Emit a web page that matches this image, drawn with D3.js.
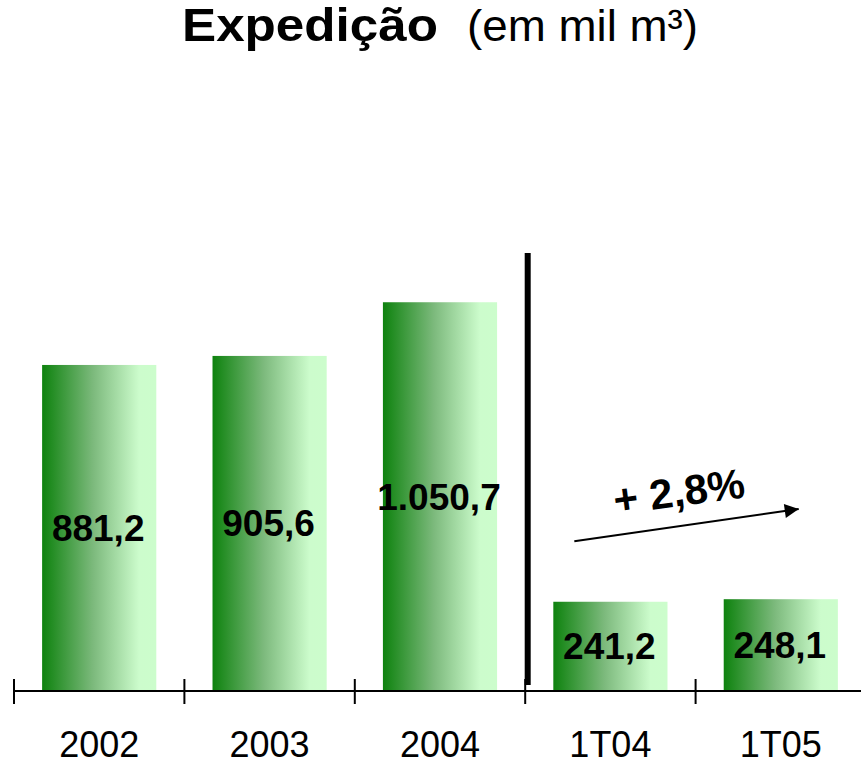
<!DOCTYPE html>
<html>
<head>
<meta charset="utf-8">
<script src="https://cdn.jsdelivr.net/npm/d3@7"></script>
<style>
  html, body { margin: 0; padding: 0; background: #fff; }
  svg { display: block; font-family: Arial, "Liberation Sans", Helvetica, sans-serif; }
</style>
</head>
<body>
<svg id="chart" width="861" height="764"></svg>
<script>
// ---- data ----
const categories = ["2002", "2003", "2004", "1T04", "1T05"];
const values = [881.2, 905.6, 1050.7, 241.2, 248.1];
const titleBold = "Expedição";
const titleRest = "(em mil m³)";
const growthLabel = "+ 2,8%";
const yDomain = [0, 1200];

// ---- layout ----
const W = 861, H = 764;
const axisY = 691;
const svg = d3.select("#chart");

const fmt = d3.formatLocale({ decimal: ",", thousands: ".", grouping: [3], currency: ["R$", ""] }).format(",.1f");

const x = d3.scaleBand().domain(categories).range([14, 866]).paddingInner(0.33).paddingOuter(0.165);
const y = d3.scaleLinear().domain(yDomain).range([axisY, 247]);
const step = x.step();

// gradient
const defs = svg.append("defs");
const grad = defs.append("linearGradient").attr("id", "barGrad")
  .attr("x1", "0%").attr("x2", "100%").attr("y1", "0%").attr("y2", "0%");
[[0, "#0e820e"], [0.45, "#7dba7d"], [0.85, "#ccfccc"], [1, "#ccfdcc"]].forEach(([o, c]) =>
  grad.append("stop").attr("offset", o).attr("stop-color", c));

// title
svg.append("text").attr("x", 182).attr("y", 41)
  .attr("font-size", 46).attr("font-weight", "bold").attr("fill", "#000")
  .attr("textLength", 256).attr("lengthAdjust", "spacingAndGlyphs")
  .text(titleBold);
svg.append("text").attr("x", 467).attr("y", 41)
  .attr("font-size", 45).attr("fill", "#000")
  .attr("textLength", 231).attr("lengthAdjust", "spacingAndGlyphs")
  .text(titleRest);

// bars
const data = categories.map((c, i) => ({ c, v: values[i] }));
svg.append("g").selectAll("rect").data(data).join("rect")
  .attr("x", d => x(d.c))
  .attr("y", d => y(d.v))
  .attr("width", x.bandwidth())
  .attr("height", d => y(0) - y(d.v))
  .attr("fill", "url(#barGrad)");

// value labels
svg.append("g").selectAll("text").data(data).join("text")
  .attr("x", d => x(d.c) + x.bandwidth() / 2 - 1)
  .attr("y", d => (y(d.v) + y(0)) / 2 + 13)
  .attr("text-anchor", "middle")
  .attr("font-size", 37).attr("font-weight", "bold").attr("fill", "#000")
  .text(d => fmt(d.v));

// axis line and ticks
const tickXs = categories.map(c => x(c) - step * x.paddingInner() / 2);
svg.append("line").attr("x1", tickXs[0]).attr("x2", W).attr("y1", axisY).attr("y2", axisY)
  .attr("stroke", "#000").attr("stroke-width", 2);
svg.append("g").selectAll("line").data(tickXs).join("line")
  .attr("x1", d => d).attr("x2", d => d).attr("y1", axisY - 12).attr("y2", axisY + 13)
  .attr("stroke", "#000").attr("stroke-width", 2);

// category labels
svg.append("g").selectAll("text").data(categories).join("text")
  .attr("x", d => x(d) + x.bandwidth() / 2)
  .attr("y", 757)
  .attr("text-anchor", "middle")
  .attr("font-size", 36).attr("fill", "#000")
  .text(d => d);

// divider between annual and quarterly
const divX = x("1T04") - step * x.paddingInner() / 2 + 2.5;
svg.append("line").attr("x1", divX).attr("x2", divX).attr("y1", y(1184)).attr("y2", axisY - 6)
  .attr("stroke", "#000").attr("stroke-width", 6);

// growth arrow
defs.append("marker").attr("id", "arrowHead").attr("viewBox", "0 0 10 10")
  .attr("refX", 10).attr("refY", 5).attr("markerWidth", 8).attr("markerHeight", 7)
  .attr("markerUnits", "strokeWidth").attr("orient", "auto")
  .append("path").attr("d", "M0,0 L10,5 L0,10 Z").attr("fill", "#000");
const ax1 = x("1T04") + 21, ay1 = y(405);
const ax2 = x("1T05") + 75, ay2 = y(492);
svg.append("line").attr("x1", ax1).attr("y1", ay1).attr("x2", ax2).attr("y2", ay2)
  .attr("stroke", "#000").attr("stroke-width", 2).attr("marker-end", "url(#arrowHead)");

const angle = Math.atan2(ay2 - ay1, ax2 - ax1) * 180 / Math.PI + 0.5;
const gx = 681, gy = 506;
svg.append("text").attr("transform", `translate(${gx},${gy}) rotate(${angle})`)
  .attr("text-anchor", "middle")
  .attr("font-size", 42).attr("font-weight", "bold").attr("fill", "#000")
  .text(growthLabel);
</script>
</body>
</html>
